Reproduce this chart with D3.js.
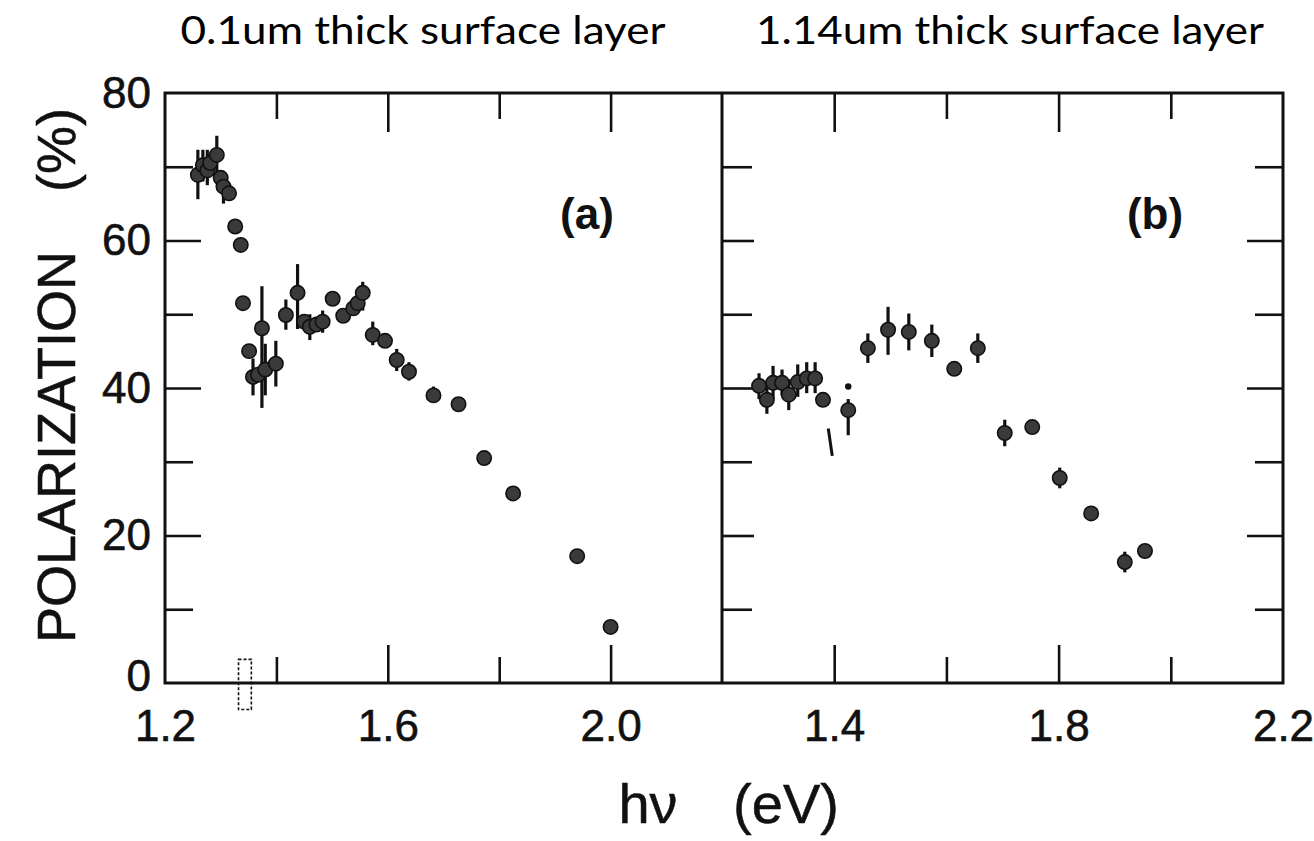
<!DOCTYPE html>
<html>
<head>
<meta charset="utf-8">
<script src="https://cdn.jsdelivr.net/npm/d3@7"></script>
<style>
  html, body { margin: 0; padding: 0; background: #fff; }
  svg { display: block; }
</style>
</head>
<body>
<script>
// ---------- data ----------
const titles = ["0.1um thick surface layer", "1.14um thick surface layer"];
const panelLabels = ["(a)", "(b)"];
const yTickLabels = [0, 20, 40, 60, 80];
const xTickLabelsLeft = [1.2, 1.6, 2.0];
const xTickLabelsRight = [1.4, 1.8, 2.2];
const yAxisTitle = "POLARIZATION";
const yAxisUnit = "(%)";
const xAxisTitle = "hν";
const xAxisUnit = "(eV)";

// panel (a): photon energy, polarization, error bar low/high (null = none)
const aEnergy = [1.259, 1.268, 1.276, 1.281, 1.293, 1.300, 1.305, 1.315, 1.326, 1.336, 1.340, 1.351, 1.358, 1.367, 1.374, 1.380, 1.399, 1.417, 1.438, 1.450, 1.460, 1.472, 1.483, 1.501, 1.520, 1.538, 1.546, 1.555, 1.573, 1.595, 1.616, 1.638, 1.682, 1.727, 1.773, 1.825, 1.940, 2.000];
const aPol    = [68.9, 70.2, 69.5, 70.5, 71.6, 68.5, 67.3, 66.4, 61.9, 59.4, 51.5, 45.0, 41.5, 41.8, 48.1, 42.5, 43.3, 49.9, 52.9, 49.0, 48.3, 48.6, 49.0, 52.1, 49.8, 50.8, 51.5, 52.9, 47.2, 46.4, 43.8, 42.2, 39.0, 37.8, 30.5, 25.7, 17.2, 7.6];
const aLow    = [65.6, 68.0, 67.5, null, 69.0, null, 65.0, null, null, null, null, null, 39.0, null, 37.3, 39.0, 40.2, 47.9, 48.0, null, 46.5, null, 47.5, null, null, null, null, 50.5, 45.8, null, 42.3, 41.0, 38.0, null, null, null, null, null];
const aHigh   = [72.3, 72.3, 72.3, null, 74.2, null, 69.0, null, null, null, null, null, 44.0, null, 53.8, 46.0, 46.4, 52.0, 56.8, null, 50.0, null, 50.5, null, null, null, null, 54.4, 49.0, null, 45.3, 43.5, 40.2, null, null, null, null, null];

// panel (b)
const bEnergy = [1.266, 1.280, 1.291, 1.307, 1.319, 1.335, 1.351, 1.366, 1.380, 1.425, 1.460, 1.496, 1.533, 1.574, 1.614, 1.656, 1.704, 1.753, 1.802, 1.858, 1.918, 1.954];
const bPol    = [40.3, 38.4, 40.7, 40.7, 39.1, 40.8, 41.3, 41.3, 38.4, 37.0, 45.4, 47.9, 47.6, 46.4, 42.6, 45.4, 33.9, 34.7, 27.8, 23.0, 16.4, 17.9];
const bLow    = [38.5, 36.5, 38.5, 39.0, 37.0, 38.8, 39.3, 39.3, null, 33.6, 43.4, 44.5, 45.1, 44.2, null, 43.4, 32.1, null, 26.4, null, 15.0, null];
const bHigh   = [42.0, 40.5, 43.0, 42.5, 41.2, 43.2, 43.5, 43.5, 41.5, 38.5, 47.4, 51.0, 50.1, 48.6, null, 47.4, 35.7, null, 29.2, null, 17.8, null];
// stray broken error bar (no marker) and isolated dot in panel (b)
const bStrayBarE = [1.393];
const bStrayBarLow = [30.8];
const bStrayBarHigh = [34.5];
const bDotE = [1.425];
const bDotP = [40.2];

// dashed box in panel (a) (energy span, polarization span)
const aBoxE = [1.332, 1.355];
const aBoxP = [-3.6, 3.2];

// ---------- layout ----------
const W = 1314, H = 841;
const yTop = 93, yBottom = 683;
const aLeft = 165, mid = 722, bRight = 1283;

const svg = d3.select("body").append("svg").attr("width", W).attr("height", H);

const y = d3.scaleLinear().domain([0, 80]).range([yBottom, yTop]);
const xa = d3.scaleLinear().domain([1.2, 2.2]).range([aLeft, mid]);
const xb = d3.scaleLinear().domain([1.2, 2.2]).range([mid, bRight]);

const ink = "#111";
const markFill = "#3a3a3a";
const tickFont = "'Liberation Sans', Arial, sans-serif";
const tickSize = 44;

// ---------- ticks (inside) ----------
function drawTicks(g, axisFn, scale, vals, size) {
  g.call(axisFn(scale).tickValues(vals).tickSize(size).tickFormat(""))
    .call(s => s.select(".domain").remove())
    .selectAll("line").attr("stroke", ink).attr("stroke-width", 2.6);
}
[xa, xb].forEach(xs => {
  const majors = xs === xa ? [1.6, 2.0] : [1.4, 1.8];
  const minors = xs === xa ? [1.4, 1.8] : [1.6, 2.0];
  drawTicks(svg.append("g").attr("transform", `translate(0,${yBottom})`), d3.axisBottom, xs, majors, -38);
  drawTicks(svg.append("g").attr("transform", `translate(0,${yBottom})`), d3.axisBottom, xs, minors, -26);
  drawTicks(svg.append("g").attr("transform", `translate(0,${yTop})`), d3.axisTop, xs, majors, -39);
  drawTicks(svg.append("g").attr("transform", `translate(0,${yTop})`), d3.axisTop, xs, minors, -26);
});
const yMajor = [20, 40, 60];
const yMinor = [10, 30, 50, 70];
drawTicks(svg.append("g").attr("transform", `translate(${aLeft},0)`), d3.axisLeft, y, yMajor, -36);
drawTicks(svg.append("g").attr("transform", `translate(${aLeft},0)`), d3.axisLeft, y, yMinor, -28);
drawTicks(svg.append("g").attr("transform", `translate(${mid},0)`), d3.axisLeft, y, yMajor, -32);
drawTicks(svg.append("g").attr("transform", `translate(${mid},0)`), d3.axisLeft, y, yMinor, -30);
drawTicks(svg.append("g").attr("transform", `translate(${bRight},0)`), d3.axisRight, y, yMajor, -36);
drawTicks(svg.append("g").attr("transform", `translate(${bRight},0)`), d3.axisRight, y, yMinor, -28);

// ---------- frames ----------
svg.append("rect").attr("x", aLeft).attr("y", yTop).attr("width", bRight - aLeft).attr("height", yBottom - yTop)
  .attr("fill", "none").attr("stroke", ink).attr("stroke-width", 3);
svg.append("line").attr("x1", mid).attr("x2", mid).attr("y1", yTop).attr("y2", yBottom)
  .attr("stroke", ink).attr("stroke-width", 3);

// ---------- tick labels ----------
function styleLabels(g) {
  g.select(".domain").remove();
  g.selectAll(".tick line").remove();
  g.selectAll("text").attr("font-family", tickFont).attr("font-size", tickSize)
    .attr("fill", ink).attr("stroke", ink).attr("stroke-width", 0.6);
}
const yLab = svg.append("g").attr("transform", `translate(${aLeft - 14},0)`)
  .call(d3.axisLeft(y).tickValues(yTickLabels).tickSize(0).tickPadding(0).tickFormat(d3.format("d")))
  .call(styleLabels);
// keep the "0" label clear of the "1.2" label below it
yLab.selectAll(".tick text").filter(d => d === 0).attr("dy", "0.18em");
svg.append("g").attr("transform", `translate(0,${yBottom + 27})`)
  .call(d3.axisBottom(xa).tickValues(xTickLabelsLeft).tickSize(0).tickPadding(0).tickFormat(d3.format(".1f")))
  .call(styleLabels);
svg.append("g").attr("transform", `translate(0,${yBottom + 27})`)
  .call(d3.axisBottom(xb).tickValues(xTickLabelsRight).tickSize(0).tickPadding(0).tickFormat(d3.format(".1f")))
  .call(styleLabels);

// ---------- axis titles ----------
function axisText(sel, size) {
  return sel.attr("font-family", tickFont).attr("font-size", size)
    .attr("fill", ink).attr("stroke", ink).attr("stroke-width", 0.5);
}
svg.append("text").attr("transform", `translate(75,447) rotate(-90)`)
  .attr("text-anchor", "middle").call(axisText, 54).text(yAxisTitle);
svg.append("text").attr("transform", `translate(75,150) rotate(-90)`)
  .attr("text-anchor", "middle").call(axisText, 54).text(yAxisUnit);
svg.append("text").attr("x", 648).attr("y", 823).attr("text-anchor", "middle")
  .call(axisText, 56).text(xAxisTitle);
svg.append("text").attr("x", 786).attr("y", 823).attr("text-anchor", "middle")
  .call(axisText, 56).text(xAxisUnit);

// ---------- panel titles ----------
svg.append("text").attr("x", 423).attr("y", 44).attr("text-anchor", "middle")
  .attr("font-family", "Lato, 'Open Sans', sans-serif").attr("font-size", 38)
  .attr("textLength", 485).attr("lengthAdjust", "spacingAndGlyphs")
  .attr("fill", "#000").text(titles[0]);
svg.append("text").attr("x", 1010).attr("y", 44).attr("text-anchor", "middle")
  .attr("font-family", "Lato, 'Open Sans', sans-serif").attr("font-size", 38)
  .attr("textLength", 508).attr("lengthAdjust", "spacingAndGlyphs")
  .attr("fill", "#000").text(titles[1]);

// ---------- panel labels ----------
svg.append("text").attr("x", 587).attr("y", 229).attr("text-anchor", "middle")
  .attr("font-family", tickFont).attr("font-weight", "bold").attr("font-size", 44).attr("fill", ink).text(panelLabels[0]);
svg.append("text").attr("x", 1155).attr("y", 229).attr("text-anchor", "middle")
  .attr("font-family", tickFont).attr("font-weight", "bold").attr("font-size", 44).attr("fill", ink).text(panelLabels[1]);

// ---------- data ----------
function drawSeries(xs, E, P, lo, hi) {
  const data = E.map((e, i) => ({ e, p: P[i], lo: lo[i], hi: hi[i] }));
  const g = svg.append("g");
  g.selectAll("line.err").data(data.filter(d => d.lo !== null)).join("line")
    .attr("class", "err")
    .attr("x1", d => xs(d.e)).attr("x2", d => xs(d.e))
    .attr("y1", d => y(d.lo)).attr("y2", d => y(d.hi))
    .attr("stroke", ink).attr("stroke-width", 3.2);
  g.selectAll("circle").data(data).join("circle")
    .attr("cx", d => xs(d.e)).attr("cy", d => y(d.p)).attr("r", 7.2)
    .attr("fill", markFill).attr("stroke", ink).attr("stroke-width", 1.6);
}
drawSeries(xa, aEnergy, aPol, aLow, aHigh);
drawSeries(xb, bEnergy, bPol, bLow, bHigh);

svg.append("g").selectAll("line").data(bStrayBarE).join("line")
  .attr("x1", d => xb(d) - 2).attr("x2", d => xb(d) + 2)
  .attr("y1", (d, i) => y(bStrayBarHigh[i])).attr("y2", (d, i) => y(bStrayBarLow[i]))
  .attr("stroke", ink).attr("stroke-width", 3);
svg.append("g").selectAll("circle").data(bDotE).join("circle")
  .attr("cx", d => xb(d)).attr("cy", (d, i) => y(bDotP[i])).attr("r", 3.2).attr("fill", ink);

svg.append("rect")
  .attr("x", xa(aBoxE[0])).attr("y", y(aBoxP[1]))
  .attr("width", xa(aBoxE[1]) - xa(aBoxE[0])).attr("height", y(aBoxP[0]) - y(aBoxP[1]))
  .attr("fill", "none").attr("stroke", ink).attr("stroke-width", 1.6).attr("stroke-dasharray", "3,2");
</script>
</body>
</html>
